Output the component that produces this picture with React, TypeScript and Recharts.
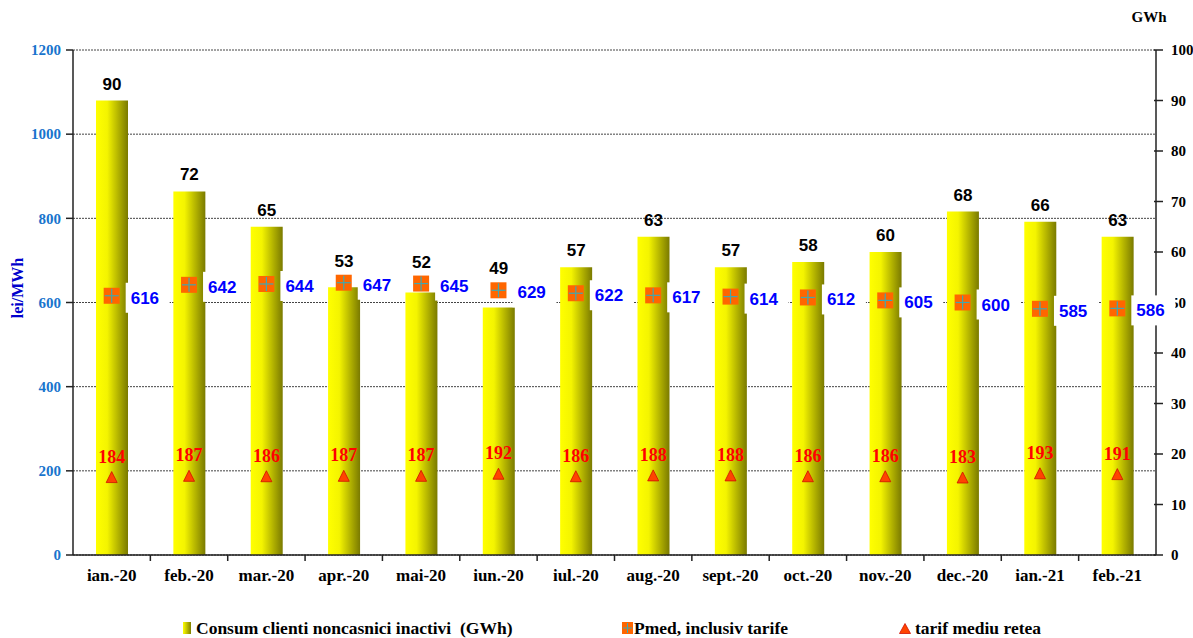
import {
  ComposedChart,
  Bar,
  Line,
  XAxis,
  YAxis,
  CartesianGrid,
  LabelList,
} from 'recharts';

const categories = [
  'ian.-20', 'feb.-20', 'mar.-20', 'apr.-20', 'mai-20', 'iun.-20', 'iul.-20',
  'aug.-20', 'sept.-20', 'oct.-20', 'nov.-20', 'dec.-20', 'ian.-21', 'feb.-21',
];
const consum = [90, 72, 65, 53, 52, 49, 57, 63, 57, 58, 60, 68, 66, 63];
const pmed = [616, 642, 644, 647, 645, 629, 622, 617, 614, 612, 605, 600, 585, 586];
const tarif = [184, 187, 186, 187, 187, 192, 186, 188, 188, 186, 186, 183, 193, 191];

const leftTicks = [0, 200, 400, 600, 800, 1000, 1200];
const rightTicks = [0, 10, 20, 30, 40, 50, 60, 70, 80, 90, 100];

const data = categories.map((name, i) => ({
  name,
  consum: consum[i],
  pmed: pmed[i],
  tarif: tarif[i],
}));

const serif = '"Liberation Serif", "Times New Roman", serif';
const sans = '"Liberation Sans", Arial, sans-serif';
const BAND = (1156 - 73) / categories.length;
// left axis max / right axis max
const AXIS_RATIO = 1200 / 100;

const PmedDot = (props: any) => {
  const { cx, cy } = props;
  if (cx == null || cy == null) return null;
  return (
    <g>
      <rect x={cx - 8} y={cy - 8} width={16} height={16} fill="#ff6600" />
      <line x1={cx - 7} y1={cy} x2={cx + 7} y2={cy} stroke="#40a8b0" strokeWidth={1.2} />
      <line x1={cx} y1={cy - 7} x2={cx} y2={cy + 7} stroke="#40a8b0" strokeWidth={1.2} />
    </g>
  );
};

const TarifDot = (props: any) => {
  const { cx, cy } = props;
  if (cx == null || cy == null) return null;
  return (
    <polygon
      points={`${cx},${cy - 6} ${cx + 5.5},${cy + 5} ${cx - 5.5},${cy + 5}`}
      fill="#ff4400"
      stroke="#d01000"
      strokeWidth={0.8}
    />
  );
};

// bar value label, pushed up when it would sit on the Pmed marker
const BarLabel = (props: any) => {
  const { x, y, width, height, value, index } = props;
  const bottom = y + height;
  const pxPerUnit = height / value;
  const pmedY = bottom - (pmed[index] / AXIS_RATIO) * pxPerUnit;
  const cy = Math.min(y - 17, pmedY - 22);
  return (
    <text
      x={x + width / 2}
      y={cy + 6}
      textAnchor="middle"
      fill="#000"
      fontFamily={sans}
      fontWeight="bold"
      fontSize={17}
    >
      {value}
    </text>
  );
};

const PmedLabel = (props: any) => {
  const { x, y, value } = props;
  return (
    <g>
      <rect x={x + 14} y={y - 13} width={44} height={30} fill="#ffffff" />
      <text x={x + 19} y={y + 8} fill="#0000ff" fontFamily={sans} fontWeight="bold" fontSize={17}>
        {value}
      </text>
    </g>
  );
};

const TarifLabel = (props: any) => {
  const { x, y, value } = props;
  return (
    <text x={x} y={y - 15} textAnchor="middle" fill="#ff0000" fontFamily={serif} fontWeight="bold" fontSize={18}>
      {value}
    </text>
  );
};

const XTick = (props: any) => {
  const { x, y, payload, index } = props;
  return (
    <g>
      {index < categories.length - 1 && (
        <line x1={x + BAND / 2} y1={y} x2={x + BAND / 2} y2={y + 6} stroke="#222" strokeWidth={1.5} />
      )}
      <text x={x} y={y + 26} textAnchor="middle" fill="#000" fontFamily={serif} fontWeight="bold" fontSize={17}>
        {payload.value}
      </text>
    </g>
  );
};

const RightTick = (props: any) => {
  const { x, y, payload } = props;
  return (
    <g>
      <line x1={x - 4} y1={y} x2={x + 5} y2={y} stroke="#222" strokeWidth={1.5} />
      <text x={x + 13} y={y + 5} fill="#000" fontFamily={serif} fontWeight="bold" fontSize={15}>
        {payload.value}
      </text>
    </g>
  );
};

const Legend = () => (
  <div
    style={{
      position: 'absolute',
      left: 0,
      top: 617,
      width: 1193,
      height: 21,
      fontFamily: serif,
      fontWeight: 'bold',
      fontSize: 17.5,
      lineHeight: '20px',
      color: '#000',
    }}
  >
    <svg style={{ position: 'absolute', left: 183, top: 5 }} width={8} height={12}>
      <defs>
        <linearGradient id="legBar" x1="0" y1="0" x2="1" y2="0">
          <stop offset="0%" stopColor="#ffff00" />
          <stop offset="100%" stopColor="#808000" />
        </linearGradient>
      </defs>
      <rect width={8} height={12} fill="url(#legBar)" />
    </svg>
    <span style={{ position: 'absolute', left: 196, top: 1, whiteSpace: 'pre' }}>
      Consum clienti noncasnici inactivi  (GWh)
    </span>
    <svg style={{ position: 'absolute', left: 622, top: 5 }} width={11} height={12}>
      <rect width={11} height={12} fill="#ff6600" />
      <line x1={1} y1={6} x2={10} y2={6} stroke="#40a8b0" strokeWidth={1} />
      <line x1={5.5} y1={1} x2={5.5} y2={11} stroke="#40a8b0" strokeWidth={1} />
    </svg>
    <span style={{ position: 'absolute', left: 634, top: 1 }}>Pmed, inclusiv tarife</span>
    <svg style={{ position: 'absolute', left: 899, top: 6 }} width={12} height={11}>
      <polygon points="6,0.5 11.5,10.5 0.5,10.5" fill="#ff4400" stroke="#d01000" strokeWidth={0.8} />
    </svg>
    <span style={{ position: 'absolute', left: 915, top: 1 }}>tarif mediu retea</span>
  </div>
);

const App = () => {
  return (
    <div style={{ position: 'absolute', left: 0, top: 0, width: 1193, height: 638, background: '#fff' }}>
      <ComposedChart
        width={1193}
        height={638}
        data={data}
        margin={{ top: 50, right: 0, bottom: 53, left: 20 }}
      >
        <defs>
          <linearGradient id="barGrad" x1="0" y1="0" x2="1" y2="0">
            <stop offset="0%" stopColor="#ffff00" />
            <stop offset="35%" stopColor="#f4f400" />
            <stop offset="100%" stopColor="#7a7a00" />
          </linearGradient>
        </defs>
        <CartesianGrid
          yAxisId="left"
          vertical={false}
          stroke="#444"
          strokeDasharray="2 1"
          strokeWidth={1}
        />
        <XAxis
          dataKey="name"
          height={30}
          tickLine={false}
          tickSize={0}
          tickMargin={0}
          axisLine={{ stroke: '#222', strokeWidth: 1.5 }}
          tick={<XTick />}
          interval={0}
        />
        <YAxis
          yAxisId="left"
          width={53}
          domain={[0, 1200]}
          ticks={leftTicks}
          allowDataOverflow
          axisLine={{ stroke: '#222', strokeWidth: 1.5 }}
          tickLine={{ stroke: '#222', strokeWidth: 1.5 }}
          tickSize={7}
          tickMargin={5}
          tick={{ fill: '#1874cd', fontFamily: serif, fontWeight: 'bold', fontSize: 15 }}
          label={() => (
            <text
              transform="translate(23,288) rotate(-90)"
              textAnchor="middle"
              fill="#0000cc"
              fontFamily={serif}
              fontWeight="bold"
              fontSize={16}
            >
              lei/MWh
            </text>
          )}
        />
        <YAxis
          yAxisId="right"
          orientation="right"
          width={37}
          domain={[0, 100]}
          ticks={rightTicks}
          axisLine={{ stroke: '#222', strokeWidth: 1.5 }}
          tickLine={false}
          tickSize={0}
          tick={<RightTick />}
          label={(p: any) => (
            <text
              x={(p.viewBox?.x ?? 1156) - 7}
              y={22}
              textAnchor="middle"
              fill="#000"
              fontFamily={serif}
              fontWeight="bold"
              fontSize={15}
            >
              GWh
            </text>
          )}
        />
        <Bar
          yAxisId="right"
          dataKey="consum"
          barSize={32}
          fill="url(#barGrad)"
          isAnimationActive={false}
        >
          <LabelList dataKey="consum" content={<BarLabel />} />
        </Bar>
        <Line
          yAxisId="left"
          dataKey="tarif"
          stroke="none"
          dot={<TarifDot />}
          activeDot={false}
          isAnimationActive={false}
        >
          <LabelList dataKey="tarif" content={<TarifLabel />} />
        </Line>
        <Line
          yAxisId="left"
          dataKey="pmed"
          stroke="none"
          dot={<PmedDot />}
          activeDot={false}
          isAnimationActive={false}
        >
          <LabelList dataKey="pmed" content={<PmedLabel />} />
        </Line>
      </ComposedChart>
      <Legend />
    </div>
  );
};

export default App;
